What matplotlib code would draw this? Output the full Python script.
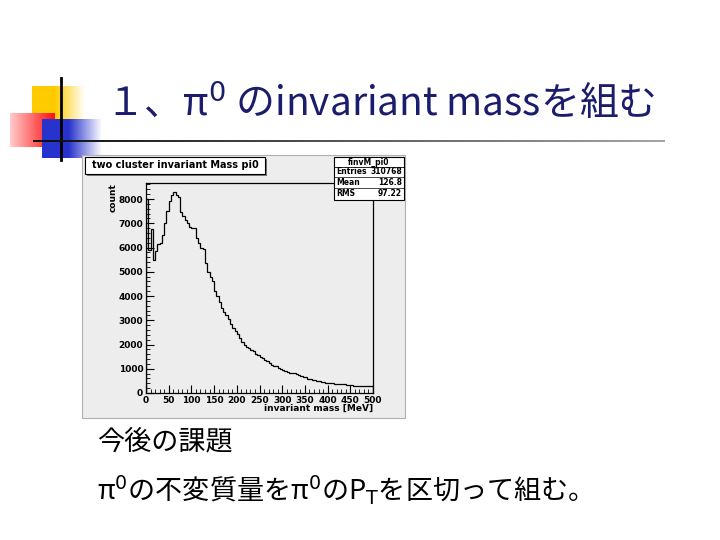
import numpy as np
import matplotlib.pyplot as plt
from matplotlib.patches import Rectangle
from matplotlib.ticker import MultipleLocator

plt.rcParams['font.family'] = ['Noto Sans CJK JP', 'DejaVu Sans']

# histogram contents, 5 MeV bins from 0 to 500 MeV
edges = np.arange(0, 505, 5)
counts = [
    8000, 5900, 6750, 5500, 5850, 6150, 6200, 6500, 7000, 7500,
    7900, 8150, 8270, 8150, 8100, 7450, 7300, 7150, 7000, 6850,
    6800, 6800, 6400, 6200, 6000, 5950, 5350, 5000, 4800, 4600,
    4200, 4000, 3750, 3500, 3350, 3200, 3050, 2850, 2700, 2550,
    2450, 2250, 2100, 2000, 1900, 1850, 1780, 1720, 1600, 1550,
    1500, 1450, 1350, 1300, 1250, 1160, 1120, 1100, 1050, 1000,
    960, 920, 860, 840, 820, 810, 780, 750, 700, 660,
    640, 580, 560, 540, 520, 500, 480, 460, 440, 430,
    420, 410, 400, 390, 380, 370, 360, 360, 350, 340,
    320, 300, 290, 290, 290, 290, 290, 290, 280, 280,
]
x_ticks = [0, 50, 100, 150, 200, 250, 300, 350, 400, 450, 500]
y_ticks = [0, 1000, 2000, 3000, 4000, 5000, 6000, 7000, 8000]
stats_rows = [("Entries", "310768"), ("Mean", "126.8"), ("RMS", "97.22")]

title = "１、π$^0$ のinvariant massを組む"
line1 = "今後の課題"
line2 = "π$^0$の不変質量をπ$^0$のP$_\\mathrm{T}$を区切って組む。"

W, H = 720, 540
fig = plt.figure(figsize=(W / 100, H / 100), dpi=100)
fig.patch.set_facecolor('white')


def pixel_axes(z):
    a = fig.add_axes([0, 0, 1, 1])
    a.set_xlim(0, W)
    a.set_ylim(H, 0)
    a.axis('off')
    a.set_zorder(z)
    a.patch.set_alpha(0)
    return a


# slide layer in pixel coordinates
bg = pixel_axes(0)

g = np.linspace(0, 1, 200)

# yellow square fading right
yel = np.zeros((1, 200, 4))
yel[..., 0] = 1.0
yel[..., 1] = 0.8
yel[..., 3] = np.clip((1 - g) * 1.8, 0, 1)
bg.imshow(yel, extent=(32, 85, 120, 86), aspect='auto', zorder=1)

# red square, pale on left, strong red on right
red = np.zeros((1, 200, 4))
red[..., 0] = 1.0
red[..., 1] = 0.8 - 0.75 * g
red[..., 2] = 0.8 - 0.75 * g
red[..., 3] = 1.0
bg.imshow(red, extent=(10, 55, 147, 113), aspect='auto', zorder=2)

# blue square fading right
blu = np.zeros((1, 200, 4))
blu[..., 0] = 0.15
blu[..., 1] = 0.2
blu[..., 2] = 0.8
blu[..., 3] = np.clip((1 - g) * 1.8, 0, 1)
bg.imshow(blu, extent=(42, 102, 158, 119), aspect='auto', zorder=3)

# black cross lines
bg.plot([61, 61], [78, 160], color='black', lw=2, zorder=4)
gray = np.zeros((1, 200, 3))
for k in range(3):
    gray[..., k] = 0.05 + 0.6 * g
bg.imshow(gray, extent=(33, 665, 142, 140), aspect='auto', zorder=4)

bg.text(105, 104, title, fontsize=28, color='#1c1c6c', va='center',
        ha='left', zorder=5)

bg.text(97, 442, line1, fontsize=19.5, color='black', va='center', zorder=5)
bg.text(97, 490, line2, fontsize=19.5, color='black', va='center', zorder=5)

# ROOT canvas
bg.add_patch(Rectangle((82, 155), 323, 263, facecolor='#ededed',
                       edgecolor='#b0b0b0', lw=0.8, zorder=5))

# histogram frame
x0, x1, y0, y1 = 146, 373, 183, 393
ax = fig.add_axes([x0 / W, 1 - y1 / H, (x1 - x0) / W, (y1 - y0) / H])
ax.set_zorder(1)
ax.patch.set_facecolor('#ededed')
ax.stairs(counts, edges, color='black', lw=0.9, baseline=0)
ax.set_xlim(0, 500)
ax.set_ylim(0, 8660)
ax.set_xticks(x_ticks)
ax.set_yticks(y_ticks)
ax.xaxis.set_minor_locator(MultipleLocator(10))
ax.yaxis.set_minor_locator(MultipleLocator(200))
ax.tick_params(which='major', direction='in', length=6, width=0.8,
               labelsize=6.5, pad=2)
ax.tick_params(which='minor', direction='in', length=3, width=0.6)
for lab in ax.get_xticklabels() + ax.get_yticklabels():
    lab.set_fontweight('bold')
    lab.set_family('DejaVu Sans')
for side in ['left', 'bottom', 'right', 'top']:
    ax.spines[side].set_linewidth(0.9)

# overlay layer: title box, stats box, axis titles
top = pixel_axes(2)

top.add_patch(Rectangle((87, 159), 180, 17, facecolor='#777777',
                        edgecolor='none', zorder=6))
top.add_patch(Rectangle((85, 157), 180, 17, facecolor='white',
                        edgecolor='black', lw=0.8, zorder=7))
top.text(175, 165.5, "two cluster invariant Mass pi0", fontsize=7,
         fontweight='bold', family='DejaVu Sans', ha='center', va='center',
         zorder=8)

top.add_patch(Rectangle((334, 157), 70, 43, facecolor='white',
                        edgecolor='black', lw=0.8, zorder=9))
top.plot([334, 404], [167, 167], color='black', lw=0.6, zorder=10)
top.text(369, 162, "finvM_pi0", fontsize=5.5, fontweight='bold',
         family='DejaVu Sans', ha='center', va='center', zorder=10)
for k, (lab, val) in enumerate(stats_rows):
    yy = 172 + k * 10.5
    top.text(336, yy, lab, fontsize=5.5, fontweight='bold',
             family='DejaVu Sans', ha='left', va='center', zorder=10)
    top.text(402, yy, val, fontsize=5.5, fontweight='bold',
             family='DejaVu Sans', ha='right', va='center', zorder=10)
    if k < len(stats_rows) - 1:
        top.plot([334, 404], [yy + 5.2, yy + 5.2], color='black', lw=0.5,
                 zorder=10)

top.text(x1, 408, "invariant mass [MeV]", fontsize=6.5, fontweight='bold',
         family='DejaVu Sans', ha='right', va='center', zorder=9)
top.text(113, y0, "count", fontsize=6.5, fontweight='bold', rotation=90,
         family='DejaVu Sans', ha='center', va='top', zorder=9)

fig.savefig('out.png', dpi=100)
